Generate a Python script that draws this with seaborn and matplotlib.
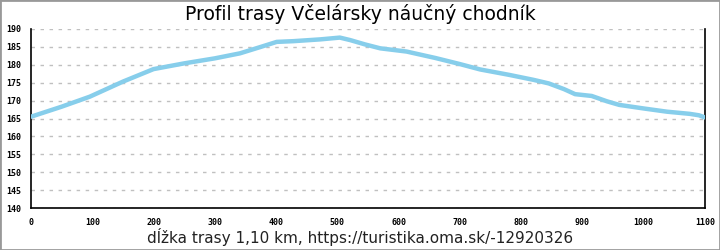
import matplotlib
matplotlib.use("Agg")
import matplotlib.pyplot as plt
import seaborn as sns
import pandas as pd
from matplotlib.patches import Rectangle

distance_m = [0, 50, 96, 150, 200, 250, 300, 341, 375, 401, 428, 472, 504, 521, 545, 570, 613, 660, 700, 733, 780, 820, 845, 870, 888, 915, 940, 960, 1000, 1038, 1075, 1090, 1100]
elevation_m = [165.5, 168.3, 171.1, 175.3, 178.8, 180.4, 181.8, 183.2, 185.0, 186.4, 186.6, 187.1, 187.6, 186.9, 185.7, 184.6, 183.7, 181.9, 180.2, 178.7, 177.2, 175.8, 174.8, 173.2, 171.8, 171.3, 169.8, 168.8, 167.8, 166.9, 166.3, 165.9, 165.3]
x_ticks = [0, 100, 200, 300, 400, 500, 600, 700, 800, 900, 1000, 1100]
y_ticks = [140, 145, 150, 155, 160, 165, 170, 175, 180, 185, 190]
title = "Profil trasy Včelársky náučný chodník"
xlabel = "dĺžka trasy 1,10 km, https://turistika.oma.sk/-12920326"

df = pd.DataFrame({"d": distance_m, "e": elevation_m})

sns.set_style("white")
plt.rcParams['font.family'] = ['DejaVu Sans']
plt.rcParams['text.color'] = 'black'

fig = plt.figure(figsize=(7.2, 2.5), dpi=100)
ax = fig.add_axes([31/720, 1 - 208/250, (705-31)/720, (208-29)/250])

sns.lineplot(data=df, x="d", y="e", ax=ax, color="#87ceeb", linewidth=3.2, zorder=3)

ax.set_xlim(0, 1100)
ax.set_ylim(140, 190)
ax.set_xticks(x_ticks)
ax.set_yticks(y_ticks)
ax.set_xticklabels([str(v) for v in x_ticks], fontfamily="DejaVu Sans Mono", fontsize=6, fontweight="bold", color="black")
ax.set_yticklabels([str(v) for v in y_ticks], fontfamily="DejaVu Sans Mono", fontsize=6, fontweight="bold", color="black")
ax.tick_params(axis="y", direction="out", length=5, width=1, color="black", pad=2)
ax.tick_params(axis="x", direction="in", length=5, width=1, color="black", pad=7)

ax.grid(axis="y", color="#c0c0c0", linestyle=(0, (2.5, 4)), linewidth=1, zorder=0)
ax.grid(axis="x", visible=False)

for s in ["left", "bottom", "right"]:
    ax.spines[s].set_visible(True)
    ax.spines[s].set_color("black")
    ax.spines[s].set_linewidth(1.2)
ax.spines["top"].set_visible(False)

ax.set_xlabel("")
ax.set_ylabel("")

fig.text(0.5, 1 - 14/250, title, ha="center", va="center", fontsize=13.5, color="black")
fig.text(0.5, 1 - 237/250, xlabel, ha="center", va="center", fontsize=11, color="#222222")

fig.patches.append(Rectangle((0, 0), 1, 1, transform=fig.transFigure, fill=False,
                             edgecolor="#999999", linewidth=2, zorder=10))

fig.savefig("out.png", dpi=100)
